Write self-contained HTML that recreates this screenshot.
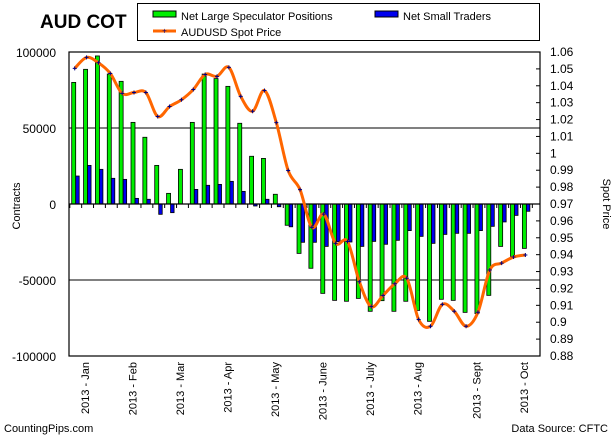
<!DOCTYPE html>
<html><head><meta charset="utf-8"><style>
body{margin:0;background:#fff}
svg text{font-family:"Liberation Sans",Arial,sans-serif}
</style></head><body>
<svg id="c" width="613" height="443" xmlns="http://www.w3.org/2000/svg">
<text x="40" y="28" font-size="19" font-weight="bold">AUD COT</text>
<g>
<rect x="137.5" y="3.5" width="402" height="37" fill="#fff" stroke="#000"/>
<rect x="153" y="11" width="23" height="6" fill="#00ee00" stroke="#000"/>
<text x="181" y="20" font-size="11">Net Large Speculator Positions</text>
<rect x="375" y="11" width="23" height="6" fill="#0000ee" stroke="#000"/>
<text x="403" y="20" font-size="11">Net Small Traders</text>
<line x1="153" y1="31" x2="176" y2="31" stroke="#ff6600" stroke-width="3"/>
<text x="164.5" y="33.5" font-size="8" fill="#000080" text-anchor="middle">+</text>
<text x="181" y="36" font-size="11">AUDUSD Spot Price</text>
</g>
<text x="20" y="206" font-size="11" transform="rotate(-90 20 206)" text-anchor="middle">Contracts</text>
<text x="603" y="204" font-size="11" transform="rotate(90 603 204)" text-anchor="middle">Spot Price</text>
<text x="4" y="432" font-size="11">CountingPips.com</text>
<text x="608" y="432" font-size="11" text-anchor="end">Data Source: CFTC</text>
<g id="plot"></g>
</svg>
<script>
const weeksCount = 39;
const largeSpec = [80000,88600,97400,85500,80700,53700,43900,25400,7000,22800,53700,85500,82500,77400,53100,31400,30000,6400,-14000,-32500,-42300,-58800,-63400,-64000,-62100,-70600,-63600,-70600,-64000,-70000,-77200,-62700,-63400,-71300,-72100,-60100,-27900,-34600,-29200];
const smallTraders = [18400,25400,22800,16900,16200,3700,3100,-6800,-5700,0,9600,12300,12900,14900,8300,-1300,3100,-1800,-15000,-25200,-25200,-27900,-24800,-25000,-27900,-24600,-26500,-23900,-17500,-21300,-25900,-20000,-19300,-19300,-17500,-14700,-11800,-7500,-4800];
const price = [1.0503,1.0568,1.0536,1.0473,1.0355,1.036,1.036,1.0218,1.0277,1.0317,1.0378,1.0467,1.0456,1.0509,1.0337,1.0249,1.0372,1.0182,0.9898,0.9785,0.9562,0.964,0.9467,0.9478,0.924,0.9092,0.9159,0.9228,0.926,0.9016,0.8976,0.9106,0.9065,0.8976,0.9059,0.9309,0.935,0.9386,0.9398];
const leftTicks = [100000,50000,0,-50000,-100000];
const rightTicks = [1.06,1.05,1.04,1.03,1.02,1.01,1,0.99,0.98,0.97,0.96,0.95,0.94,0.93,0.92,0.91,0.9,0.89,0.88];
const monthLabels = ["2013 - Jan","2013 - Feb","2013 - Mar","2013 - Apr","2013 - May","2013 - June","2013 - July","2013 - Aug","2013 - Sept","2013 - Oct"];
const monthWeek = [0.8,4.8,8.8,12.8,16.8,20.8,24.8,28.8,33.8,37.8];

const L=69,R=540,T=52,B=356;
const yL=v=>T+(100000-v)/200000*(B-T);
const yR=v=>T+(1.06-v)/0.18*(B-T);
const xW=i=>75.7+i*11.86;
const NS='http://www.w3.org/2000/svg';
const plot=document.getElementById('plot');
function mk(t,a,p){const e=document.createElementNS(NS,t);for(const k in a)e.setAttribute(k,a[k]);(p||plot).appendChild(e);return e;}

// gridlines
[50000,-50000].forEach(v=>{const g=mk('line',{x1:L,x2:R,y1:yL(v),y2:yL(v),stroke:'#000'});

});

// bars
largeSpec.forEach((v,i)=>{const c=xW(i);const y0=yL(0),y1=yL(v);
const r=mk('rect',{x:c-4,y:Math.min(y0,y1),width:4,height:Math.abs(y1-y0),fill:'#00ee00',stroke:'#000','stroke-width':0.8});

});
smallTraders.forEach((v,i)=>{const c=xW(i);const y0=yL(0),y1=yL(v);
const r=mk('rect',{x:c,y:Math.min(y0,y1),width:3.5,height:Math.abs(y1-y0),fill:'#0000ee',stroke:'#000','stroke-width':0.8});

});

// zero line + week ticks
const z=mk('line',{x1:L,x2:R,y1:yL(0),y2:yL(0),stroke:'#000','stroke-width':1.2});


for(let i=0;i<=weeksCount;i++){const x=xW(i)-5.9;mk('line',{x1:x,x2:x,y1:yL(0),y2:yL(0)+4,stroke:'#000'});}

// price line (catmull-rom)
const pts=price.map((v,i)=>[xW(i)-1,yR(v)]);
let d='M'+pts[0][0]+','+pts[0][1];
for(let i=0;i<pts.length-1;i++){const p0=pts[i-1]||pts[i],p1=pts[i],p2=pts[i+1],p3=pts[i+2]||p2;
d+=' C'+(p1[0]+(p2[0]-p0[0])/6)+','+(p1[1]+(p2[1]-p0[1])/6)+' '+(p2[0]-(p3[0]-p1[0])/6)+','+(p2[1]-(p3[1]-p1[1])/6)+' '+p2[0]+','+p2[1];}
const pl=mk('path',{d:d,fill:'none',stroke:'#ff6600','stroke-width':3});


pts.forEach(p=>{const m=mk('path',{d:`M${p[0]-2},${p[1]}h4M${p[0]},${p[1]-2}v4`,stroke:'#000080','stroke-width':1});

});

// frame
const fr=mk('rect',{x:L,y:T,width:R-L,height:B-T,fill:'none',stroke:'#000','stroke-width':1.2});



// left ticks
leftTicks.forEach(v=>{const t=mk('text',{x:56,y:yL(v)+5,'font-size':12,'text-anchor':'end'});t.textContent=v;

});
// right ticks
rightTicks.forEach(v=>{const y=yR(v);mk('line',{x1:R-4,x2:R,y1:y,y2:y,stroke:'#000'});
const t=mk('text',{x:550,y:y+4,'font-size':12});t.textContent=v;

});
// month labels
monthLabels.forEach((s,i)=>{const x=xW(monthWeek[i])+4;const t=mk('text',{x:x,y:362,'font-size':11,'text-anchor':'end',transform:`rotate(-90 ${x} 362)`});t.textContent=s;

});
</script>
</body></html>
